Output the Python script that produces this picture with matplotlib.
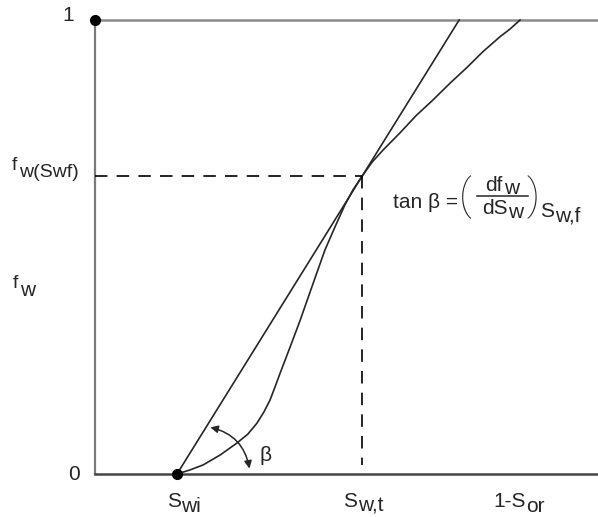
import matplotlib
matplotlib.use('Agg')
import matplotlib.pyplot as plt
from matplotlib.patches import FancyArrowPatch
from matplotlib.textpath import TextPath
from matplotlib.font_manager import FontProperties
from matplotlib.transforms import IdentityTransform
from matplotlib.lines import Line2D

matplotlib.rcParams['font.family'] = 'Liberation Sans'

# fractional flow curve (x = Sw, y = fw)
sw = [0.163, 0.189, 0.215, 0.249, 0.282, 0.304, 0.322, 0.336, 0.348, 0.358,
      0.368, 0.378, 0.388, 0.408, 0.427, 0.441, 0.457, 0.477, 0.497, 0.513,
      0.531, 0.551, 0.573, 0.606, 0.638, 0.672, 0.706, 0.740, 0.771, 0.805,
      0.825, 0.845]
fw = [0.0, 0.009, 0.020, 0.042, 0.068, 0.088, 0.112, 0.137, 0.163, 0.192,
      0.222, 0.251, 0.280, 0.339, 0.399, 0.443, 0.493, 0.544, 0.593, 0.626,
      0.656, 0.687, 0.714, 0.751, 0.789, 0.824, 0.861, 0.896, 0.930, 0.963,
      0.980, 1.0]

swi = 0.163      # irreducible water saturation
swt = 0.531      # tangent point
fw_swf = 0.656   # fw at the front
one_sor = 0.839

ink = '#262626'
FP = FontProperties(family='Liberation Sans')
K = 100 / 72     # pixels per point
W, H = 598, 517

fig = plt.figure(figsize=(W / 100, H / 100), dpi=100)
ax = fig.add_axes([95 / W, 43 / H, 503 / W, 454 / H])
ax.set_xlim(0, 1)
ax.set_ylim(0, 1)
ax.axis('off')


def width(s, fs):
    return TextPath((0, 0), s, size=fs, prop=FP).get_extents().x1 * K


def put(x, y, s, fs=15, **kw):
    # text at display pixel position (baseline, left)
    kw.setdefault('color', ink)
    fig.text(x, y, s, fontsize=fs, transform=IdentityTransform(),
             ha='left', va='baseline', **kw)


def put_sub(x, y, main, sub, fs=15, fs_sub=14, drop=5, center=False):
    w1 = width(main, fs) + 1.5
    w2 = width(sub, fs_sub)
    if center:
        x = x - (w1 + w2) / 2
    put(x, y, main, fs)
    put(x + w1, y - drop, sub, fs_sub)
    return x + w1 + w2


def disp(x, y):
    return ax.transData.transform((x, y))


# frame: left spine, top line (fw = 1) and bottom axis
ax.plot([0, 0], [0, 1], color='#7a7a7a', lw=1.6, clip_on=False)
ax.plot([0, 1], [1, 1], color='#8a8a8a', lw=1.8, clip_on=False)
ax.plot([0, 1], [0, 0], color='#454545', lw=1.8, clip_on=False)

# curve and tangent line from Swi
ax.plot(sw, fw, color=ink, lw=1.2, clip_on=False)
slope = fw_swf / (swt - swi)
ax.plot([swi, swi + 1.0 / slope], [0, 1], color=ink, lw=1.2, clip_on=False)

# dashed guides
ax.plot([0, swt], [fw_swf, fw_swf], color='black', lw=1.2, dashes=(7.5, 5.5))
ax.plot([swt, swt], [fw_swf, 0.02], color='black', lw=1.2, dashes=(7.5, 5.5))

# dots
ax.plot([0, swi], [1, 0], 'o', color='black', ms=7, clip_on=False)

# beta arrow
arr = FancyArrowPatch((0.224, 0.104), (0.308, 0.006), arrowstyle='<|-|>',
                      connectionstyle='arc3,rad=-0.35', mutation_scale=11,
                      color=ink, lw=1.1)
ax.add_patch(arr)
ax.text(0.34, 0.04, '\u03b2', fontsize=15, color=ink, ha='center', va='center')

# y labels
ax.text(-0.054, 1.009, '1', fontsize=15, color=ink, ha='center', va='center')
ax.text(-0.042, -0.002, '0', fontsize=15, color=ink, ha='center', va='center')
X0, Y0 = disp(0, fw_swf)
put_sub(12, Y0 + 6, 'f', 'w(Swf)', 14, 14, drop=7)
X0, Y0 = disp(0, 0)
put_sub(13, Y0 + 186, 'f', 'w', 14, 15, drop=8)

# x labels
x_ticks = [swi, swt, one_sor]
x_main = ['S', 'S', '1-S']
x_sub = ['wi', 'w,t', 'or']
x_shift = [6, 1, 2]
for xt, m, s, dx in zip(x_ticks, x_main, x_sub, x_shift):
    X, Y = disp(xt, 0)
    put_sub(X + dx, Y - 33, m, s, 15, 15, drop=5, center=True)

# slope formula, anchored to the tangent point
X, Y = disp(swt, fw_swf)
ax0, ay0 = X + 31, Y - 32
put(ax0, ay0, 'tan \u03b2 =', 15)
put(ax0 + 66, ay0 - 1, '(', 31, family='Roboto', fontweight='light')
put(ax0 + 133, ay0 - 1, ')', 31, family='Roboto', fontweight='light')
fig.lines.append(Line2D([ax0 + 84, ax0 + 135], [ay0 + 12, ay0 + 12], color=ink,
                        lw=1.1, transform=IdentityTransform(), figure=fig))
put_sub(ax0 + 109.5, ay0 + 17, 'df', 'w', 15, 15, drop=3, center=True)
put_sub(ax0 + 109.5, ay0 - 6, 'dS', 'w', 15, 15, drop=4, center=True)
put_sub(ax0 + 147, ay0 - 9, 'S', 'w,f', 15, 15, drop=4)

fig.savefig('out.png', dpi=100)
